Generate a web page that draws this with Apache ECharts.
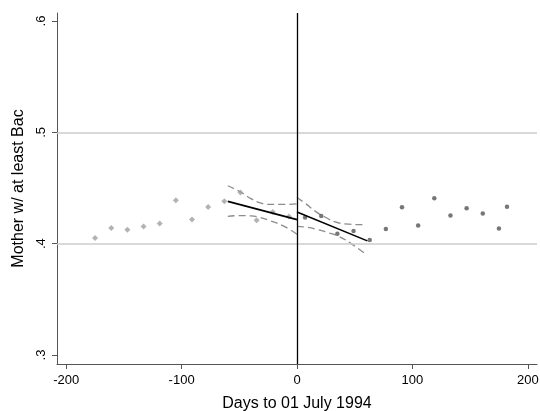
<!DOCTYPE html>
<html>
<head>
<meta charset="utf-8">
<script src="https://cdn.jsdelivr.net/npm/echarts@6/dist/echarts.min.js"></script>
<style>html,body{margin:0;padding:0;background:#fff}#c{width:540px;height:411px}</style>
</head>
<body>
<div id="c"></div>
<script>
// Binned means before the cutoff (days, share)
const preDays = [-175, -161, -147, -133, -119, -105, -91, -77, -63, -49, -35, -21, -7];
const preVals = [0.405, 0.414, 0.4126, 0.4155, 0.418, 0.439, 0.4216, 0.433, 0.438, 0.446, 0.421, 0.4285, 0.4243];
// Binned means after the cutoff
const postDays = [7, 21, 35, 49, 63, 77, 91, 105, 119, 133, 147, 161, 175, 182];
const postVals = [0.4236, 0.4249, 0.409, 0.4114, 0.4033, 0.4132, 0.4326, 0.4164, 0.4407, 0.4254, 0.4317, 0.4272, 0.4137, 0.4332];
// Local linear fits
const preFitX = [-60, 0];
const preFitY = [0.438, 0.4216];
const postFitX = [0, 61];
const postFitY = [0.4285, 0.4025];
// Confidence bands
const preUpX = [-60, -49, -40, -32, -23, -12, 0];
const preUpY = [0.452, 0.4464, 0.4405, 0.4366, 0.4352, 0.4352, 0.4357];
const preLoX = [-60, -50, -40, -32, -23, -12, 0];
const preLoY = [0.4245, 0.4252, 0.4250, 0.4235, 0.4205, 0.4160, 0.4085];
const postUpX = [0, 8, 16, 25, 33, 45, 58];
const postUpY = [0.4415, 0.4355, 0.429, 0.4235, 0.4195, 0.4175, 0.417];
const postLoX = [0, 8, 16, 25, 36, 47, 58];
const postLoY = [0.4155, 0.4148, 0.4132, 0.4105, 0.4066, 0.400, 0.3917];
// Axis ticks
const xTicks = [-200, -100, 0, 100, 200];
const yTicks = [0.3, 0.4, 0.5, 0.6];
const yGrid = [0.4, 0.5];

const zip = (a, b) => a.map((v, i) => [v, b[i]]);
const FONT = 'Liberation Sans, Arial, sans-serif';

const chart = echarts.init(document.getElementById('c'), null, {renderer: 'canvas'});
const dashed = (x, y) => ({
  type: 'line', data: zip(x, y), smooth: true, symbol: 'none', silent: true,
  lineStyle: {color: '#8c8c8c', width: 1.3, type: [7, 4]}, z: 3
});
chart.setOption({
  animation: false,
  backgroundColor: '#fff',
  grid: {left: 57, right: 3, top: 13, bottom: 47, containLabel: false, outerBoundsMode: 'none'},
  xAxis: {
    type: 'value', min: -208, max: 208,
    name: 'Days to 01 July 1994', nameLocation: 'middle', nameGap: 32,
    nameTextStyle: {fontFamily: FONT, fontSize: 16, color: '#000'},
    axisLine: {show: true, onZero: false, lineStyle: {color: '#555', width: 1}},
    axisTick: {show: true, length: 5, customValues: xTicks, lineStyle: {color: '#555'}},
    axisLabel: {customValues: xTicks, fontFamily: FONT, fontSize: 13, color: '#000', margin: 10},
    splitLine: {show: false}
  },
  yAxis: {
    type: 'value', min: 0.2919, max: 0.6072,
    name: 'Mother w/ at least Bac', nameLocation: 'middle', nameGap: 30,
    nameTextStyle: {fontFamily: FONT, fontSize: 16, color: '#000'},
    axisLine: {show: true, onZero: false, lineStyle: {color: '#555', width: 1}},
    axisTick: {show: true, length: 5, customValues: yTicks, lineStyle: {color: '#555'}},
    axisLabel: {customValues: yTicks, rotate: 90, fontFamily: FONT, fontSize: 13, color: '#000', margin: 9,
      formatter: v => String(Math.round(v * 10) / 10).replace(/^0\./, '.')},
    splitLine: {show: false}
  },
  series: [
    {
      type: 'scatter', data: zip(preDays, preVals), symbol: 'diamond', symbolSize: 6,
      itemStyle: {color: '#a0a0a0'}, z: 4,
      markLine: {
        silent: true, symbol: 'none', label: {show: false}, animation: false,
        data: [
          ...yGrid.map(v => ({yAxis: v, lineStyle: {color: '#cdcdcd', width: 1.5, type: 'solid'}})),
          {xAxis: 0, lineStyle: {color: '#000', width: 1.3, type: 'solid'}}
        ]
      }
    },
    {
      type: 'scatter', data: zip(postDays, postVals), symbol: 'circle', symbolSize: 4.5,
      itemStyle: {color: '#555'}, z: 4
    },
    {type: 'line', data: zip(preFitX, preFitY), symbol: 'none', lineStyle: {color: '#000', width: 1.6}, z: 5},
    {type: 'line', data: zip(postFitX, postFitY), symbol: 'none', lineStyle: {color: '#000', width: 1.6}, z: 5},
    dashed(preUpX, preUpY),
    dashed(preLoX, preLoY),
    dashed(postUpX, postUpY),
    dashed(postLoX, postLoY)
  ]
});
</script>
</body>
</html>
